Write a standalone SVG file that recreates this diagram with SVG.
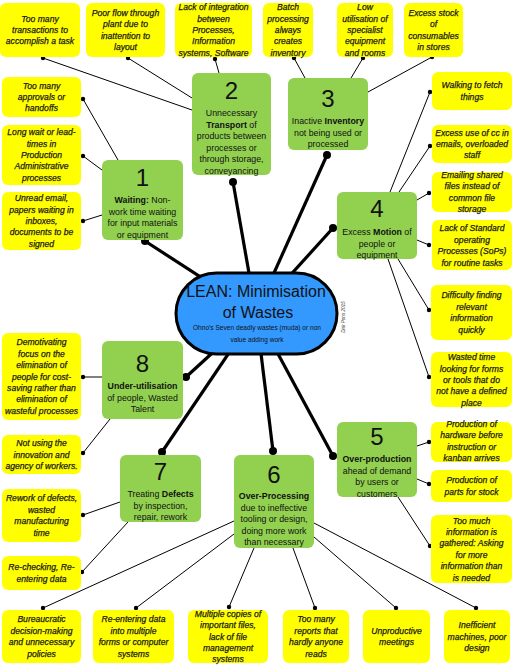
<svg xmlns="http://www.w3.org/2000/svg" width="512" height="666" viewBox="0 0 512 666">
<style>
.y{fill:#ffff00}
.g{fill:#92d050}
.yt{font-family:"Liberation Sans",Arial,sans-serif;font-style:italic;font-size:8.6px;fill:#1a1a1a;stroke:#1a1a1a;stroke-width:0.25;text-anchor:middle}
.gt{font-family:"Liberation Sans",Arial,sans-serif;font-size:8.8px;fill:#111;text-anchor:middle}
.gt .b{font-weight:bold}
.num{font-family:"Liberation Sans",Arial,sans-serif;font-size:24px;fill:#111;text-anchor:middle}
.thin{stroke:#000;stroke-width:1;fill:none}
.thick{stroke:#000;stroke-width:3.2;fill:none}
.d{fill:#000}
</style>
<rect width="512" height="666" fill="#fff"/>
<g id="connectors">
<g class="thin">
<line x1="43" y1="58" x2="192" y2="110"/>
<line x1="128" y1="58" x2="192" y2="98"/>
<line x1="215" y1="59" x2="219" y2="73"/>
<line x1="294" y1="58" x2="305" y2="78"/>
<line x1="363" y1="58" x2="351" y2="78"/>
<line x1="432" y1="57" x2="368" y2="92"/>
<line x1="83" y1="99" x2="118" y2="160"/>
<line x1="83" y1="156" x2="102" y2="170"/>
<line x1="83" y1="221" x2="102" y2="215"/>
<line x1="430" y1="92" x2="390" y2="192"/>
<line x1="430" y1="146" x2="399" y2="192"/>
<line x1="429" y1="193" x2="417" y2="200"/>
<line x1="429" y1="245" x2="417" y2="240"/>
<line x1="429" y1="310" x2="398" y2="259"/>
<line x1="429" y1="377" x2="388" y2="259"/>
<line x1="429" y1="442" x2="417" y2="446"/>
<line x1="429" y1="484" x2="417" y2="479"/>
<line x1="430" y1="546" x2="398" y2="497"/>
<line x1="83" y1="377" x2="102" y2="377"/>
<line x1="83" y1="453" x2="110" y2="419"/>
<line x1="83" y1="515" x2="120" y2="502"/>
<line x1="82" y1="572" x2="128" y2="522"/>
<line x1="43" y1="608" x2="234" y2="521"/>
<line x1="136" y1="608" x2="234" y2="534"/>
<line x1="229" y1="607" x2="254" y2="548"/>
<line x1="315" y1="608" x2="293" y2="548"/>
<line x1="396" y1="608" x2="314" y2="537"/>
<line x1="476" y1="608" x2="314" y2="523"/>
</g>
<g class="d">
<circle cx="43" cy="58" r="2.2"/><circle cx="128" cy="58" r="2.2"/><circle cx="215" cy="59" r="2.2"/>
<circle cx="294" cy="58" r="2.2"/><circle cx="363" cy="58" r="2.2"/><circle cx="432" cy="57" r="2.2"/>
<circle cx="83" cy="99" r="2.2"/><circle cx="83" cy="156" r="2.2"/><circle cx="83" cy="221" r="2.2"/>
<circle cx="430" cy="92" r="2.2"/><circle cx="430" cy="146" r="2.2"/><circle cx="429" cy="193" r="2.2"/>
<circle cx="429" cy="245" r="2.2"/><circle cx="429" cy="310" r="2.2"/><circle cx="429" cy="377" r="2.2"/>
<circle cx="429" cy="442" r="2.2"/><circle cx="429" cy="484" r="2.2"/><circle cx="430" cy="546" r="2.2"/>
<circle cx="83" cy="377" r="2.2"/><circle cx="83" cy="453" r="2.2"/><circle cx="83" cy="515" r="2.2"/>
<circle cx="82" cy="572" r="2.2"/>
<circle cx="43" cy="608" r="2.2"/><circle cx="136" cy="608" r="2.2"/><circle cx="229" cy="607" r="2.2"/>
<circle cx="315" cy="608" r="2.2"/><circle cx="396" cy="608" r="2.2"/><circle cx="476" cy="608" r="2.2"/>
</g>
<g class="thick">
<line x1="256" y1="313" x2="145" y2="241"/>
<line x1="256" y1="313" x2="233" y2="182"/>
<line x1="256" y1="313" x2="327" y2="155"/>
<line x1="256" y1="313" x2="333" y2="228"/>
<line x1="256" y1="313" x2="333" y2="456"/>
<line x1="256" y1="313" x2="273" y2="451"/>
<line x1="256" y1="313" x2="162" y2="452"/>
<line x1="256" y1="313" x2="186" y2="377"/>
</g>
<g class="d">
<circle cx="145" cy="241" r="4"/><circle cx="233" cy="182" r="4"/><circle cx="327" cy="155" r="4"/>
<circle cx="333" cy="228" r="4"/><circle cx="333" cy="456" r="4"/><circle cx="273" cy="451" r="4"/>
<circle cx="162" cy="452" r="4"/><circle cx="186" cy="377" r="4"/>
</g>
</g>

<g id="center">
<rect x="176" y="273" width="161" height="81" rx="40.5" fill="#3399ff" stroke="#000" stroke-width="3"/>
<text x="256" y="297" font-family="Liberation Sans,Arial,sans-serif" font-size="16" fill="#111" text-anchor="middle">LEAN: Minimisation</text>
<text x="258" y="318" font-family="Liberation Sans,Arial,sans-serif" font-size="16" fill="#111" text-anchor="middle">of Wastes</text>
<text x="257" y="330" font-family="Liberation Sans,Arial,sans-serif" font-size="6.6" fill="#111" text-anchor="middle">Ohno's Seven deadly wastes (muda) or non</text>
<text x="257" y="342" font-family="Liberation Sans,Arial,sans-serif" font-size="6.6" fill="#111" text-anchor="middle">value adding work</text>
<text x="0" y="0" transform="translate(345,317) rotate(-90)" font-family="Liberation Sans,Arial,sans-serif" font-style="italic" font-size="4.6" fill="#333" text-anchor="middle">Dirk Pons 2015</text>
</g>

<g id="n1"><rect class="g" x="102" y="160" width="81" height="80" rx="6"/>
<text class="num" x="142.5" y="186">1</text>
<text class="gt"><tspan x="142.5" y="203"><tspan class="b">Waiting:</tspan> Non-</tspan><tspan x="142.5" y="214.5">work time waiting</tspan><tspan x="142.5" y="226">for input materials</tspan><tspan x="142.5" y="237.5">or equipment</tspan></text></g>

<g id="n2"><rect class="g" x="192" y="73" width="79" height="102" rx="6"/>
<text class="num" x="231.5" y="99">2</text>
<text class="gt"><tspan x="231.5" y="116">Unnecessary</tspan><tspan x="231.5" y="127.5"><tspan class="b">Transport</tspan> of</tspan><tspan x="231.5" y="139">products between</tspan><tspan x="231.5" y="150.5">processes or</tspan><tspan x="231.5" y="162">through storage,</tspan><tspan x="231.5" y="173.5">conveyancing</tspan></text></g>

<g id="n3"><rect class="g" x="288" y="78" width="80" height="72" rx="6"/>
<text class="num" x="328" y="107">3</text>
<text class="gt"><tspan x="328" y="124">Inactive <tspan class="b">Inventory</tspan></tspan><tspan x="328" y="135.5">not being used or</tspan><tspan x="328" y="147">processed</tspan></text></g>

<g id="n4"><rect class="g" x="337" y="192" width="80" height="67" rx="6"/>
<text class="num" x="377" y="217">4</text>
<text class="gt"><tspan x="377" y="235">Excess <tspan class="b">Motion</tspan> of</tspan><tspan x="377" y="246.5">people or</tspan><tspan x="377" y="258">equipment</tspan></text></g>

<g id="n5"><rect class="g" x="337" y="422" width="80" height="75" rx="6"/>
<text class="num" x="377" y="445">5</text>
<text class="gt"><tspan x="377" y="462" class="b">Over-production</tspan><tspan x="377" y="473.5">ahead of demand</tspan><tspan x="377" y="485">by users or</tspan><tspan x="377" y="496.5">customers</tspan></text></g>

<g id="n6"><rect class="g" x="234" y="455" width="80" height="93" rx="6"/>
<text class="num" x="274" y="483">6</text>
<text class="gt"><tspan x="274" y="499" class="b">Over-Processing</tspan><tspan x="274" y="510.5">due to ineffective</tspan><tspan x="274" y="522">tooling or design,</tspan><tspan x="274" y="533.5">doing more work</tspan><tspan x="274" y="545">than necessary</tspan></text></g>

<g id="n7"><rect class="g" x="120" y="455" width="81" height="67" rx="6"/>
<text class="num" x="160.5" y="480">7</text>
<text class="gt"><tspan x="160.5" y="497">Treating <tspan class="b">Defects</tspan></tspan><tspan x="160.5" y="508.5">by inspection,</tspan><tspan x="160.5" y="520">repair, rework</tspan></text></g>

<g id="n8"><rect class="g" x="102" y="341" width="81" height="78" rx="6"/>
<text class="num" x="142.5" y="372">8</text>
<text class="gt"><tspan x="142.5" y="389" class="b">Under-utilisation</tspan><tspan x="142.5" y="400.5">of people, Wasted</tspan><tspan x="142.5" y="412">Talent</tspan></text></g>

<g id="t1"><rect class="y" x="0" y="3" width="80" height="54" rx="6"/>
<text class="yt"><tspan x="40" y="21.6">Too many</tspan><tspan x="40" y="33">transactions to</tspan><tspan x="40" y="44.4">accomplish a task</tspan></text></g>
<g id="t2"><rect class="y" x="86" y="3" width="79" height="54" rx="6"/>
<text class="yt"><tspan x="125.5" y="15.9">Poor flow through</tspan><tspan x="125.5" y="27.3">plant due to</tspan><tspan x="125.5" y="38.7">inattention to</tspan><tspan x="125.5" y="50.1">layout</tspan></text></g>
<g id="t3"><rect class="y" x="175" y="3" width="77" height="54" rx="6"/>
<text class="yt"><tspan x="213.5" y="10.2">Lack of integration</tspan><tspan x="213.5" y="21.6">between</tspan><tspan x="213.5" y="33">Processes,</tspan><tspan x="213.5" y="44.4">Information</tspan><tspan x="213.5" y="55.8">systems, Software</tspan></text></g>
<g id="t4"><rect class="y" x="263" y="3" width="50" height="54" rx="6"/>
<text class="yt"><tspan x="288" y="10.2">Batch</tspan><tspan x="288" y="21.6">processing</tspan><tspan x="288" y="33">always</tspan><tspan x="288" y="44.4">creates</tspan><tspan x="288" y="55.8">inventory</tspan></text></g>
<g id="t5"><rect class="y" x="337" y="3" width="56" height="54" rx="6"/>
<text class="yt"><tspan x="365" y="10.2">Low</tspan><tspan x="365" y="21.6">utilisation of</tspan><tspan x="365" y="33">specialist</tspan><tspan x="365" y="44.4">equipment</tspan><tspan x="365" y="55.8">and rooms</tspan></text></g>
<g id="t6"><rect class="y" x="404" y="3" width="59" height="54" rx="6"/>
<text class="yt"><tspan x="433.5" y="15.9">Excess stock</tspan><tspan x="433.5" y="27.3">of</tspan><tspan x="433.5" y="38.7">consumables</tspan><tspan x="433.5" y="50.1">in stores</tspan></text></g>

<g id="l1"><rect class="y" x="2" y="77" width="79" height="40" rx="6"/>
<text class="yt"><tspan x="41.5" y="88.6">Too many</tspan><tspan x="41.5" y="100">approvals or</tspan><tspan x="41.5" y="111.4">handoffs</tspan></text></g>
<g id="l2"><rect class="y" x="2" y="125" width="79" height="60" rx="6"/>
<text class="yt"><tspan x="41.5" y="135.2">Long wait or lead-</tspan><tspan x="41.5" y="146.6">times in</tspan><tspan x="41.5" y="158">Production</tspan><tspan x="41.5" y="169.4">Administrative</tspan><tspan x="41.5" y="180.8">processes</tspan></text></g>
<g id="l3"><rect class="y" x="2" y="192" width="79" height="58" rx="6"/>
<text class="yt"><tspan x="41.5" y="201.2">Unread email,</tspan><tspan x="41.5" y="212.6">papers waiting in</tspan><tspan x="41.5" y="224">inboxes,</tspan><tspan x="41.5" y="235.4">documents to be</tspan><tspan x="41.5" y="246.8">signed</tspan></text></g>

<g id="r1"><rect class="y" x="432" y="72" width="80" height="38" rx="6"/>
<text class="yt"><tspan x="472" y="88.3">Walking to fetch</tspan><tspan x="472" y="99.7">things</tspan></text></g>
<g id="r2"><rect class="y" x="432" y="125" width="80" height="38" rx="6"/>
<text class="yt"><tspan x="472" y="135.6">Excess use of cc in</tspan><tspan x="472" y="147">emails, overloaded</tspan><tspan x="472" y="158.4">staff</tspan></text></g>
<g id="r3"><rect class="y" x="432" y="172" width="80" height="40" rx="6"/>
<text class="yt"><tspan x="472" y="177.9">Emailing shared</tspan><tspan x="472" y="189.3">files instead of</tspan><tspan x="472" y="200.7">common file</tspan><tspan x="472" y="212.1">storage</tspan></text></g>
<g id="r4"><rect class="y" x="432" y="220" width="80" height="50" rx="6"/>
<text class="yt"><tspan x="472" y="231.4">Lack of Standard</tspan><tspan x="472" y="242.8">operating</tspan><tspan x="472" y="254.2">Processes (SoPs)</tspan><tspan x="472" y="265.6">for routine tasks</tspan></text></g>
<g id="r5"><rect class="y" x="431" y="285" width="81" height="55" rx="6"/>
<text class="yt"><tspan x="471.5" y="298.4">Difficulty finding</tspan><tspan x="471.5" y="309.8">relevant</tspan><tspan x="471.5" y="321.2">information</tspan><tspan x="471.5" y="332.6">quickly</tspan></text></g>
<g id="r6"><rect class="y" x="431" y="352" width="81" height="55" rx="6"/>
<text class="yt"><tspan x="471.5" y="360.2">Wasted time</tspan><tspan x="471.5" y="371.6">looking for forms</tspan><tspan x="471.5" y="383">or tools that do</tspan><tspan x="471.5" y="394.4">not have a defined</tspan><tspan x="471.5" y="405.8">place</tspan></text></g>
<g id="r7"><rect class="y" x="431" y="422" width="81" height="40" rx="6"/>
<text class="yt"><tspan x="471.5" y="426.9">Production of</tspan><tspan x="471.5" y="438.3">hardware before</tspan><tspan x="471.5" y="449.7">instruction or</tspan><tspan x="471.5" y="461.1">kanban arrives</tspan></text></g>
<g id="r8"><rect class="y" x="431" y="470" width="81" height="32" rx="6"/>
<text class="yt"><tspan x="471.5" y="483.3">Production of</tspan><tspan x="471.5" y="494.7">parts for stock</tspan></text></g>
<g id="r9"><rect class="y" x="431" y="515" width="81" height="68" rx="6"/>
<text class="yt"><tspan x="471.5" y="523.5">Too much</tspan><tspan x="471.5" y="534.9">information is</tspan><tspan x="471.5" y="546.3">gathered: Asking</tspan><tspan x="471.5" y="557.7">for more</tspan><tspan x="471.5" y="569.1">information than</tspan><tspan x="471.5" y="580.5">is needed</tspan></text></g>

<g id="l4"><rect class="y" x="2" y="333" width="79" height="87" rx="6"/>
<text class="yt"><tspan x="41.5" y="345.3">Demotivating</tspan><tspan x="41.5" y="356.7">focus on the</tspan><tspan x="41.5" y="368.1">elimination of</tspan><tspan x="41.5" y="379.5">people for cost-</tspan><tspan x="41.5" y="390.9">saving rather than</tspan><tspan x="41.5" y="402.3">elimination of</tspan><tspan x="41.5" y="413.7">wasteful processes</tspan></text></g>
<g id="l5"><rect class="y" x="2" y="435" width="79" height="39" rx="6"/>
<text class="yt"><tspan x="41.5" y="446.1">Not using the</tspan><tspan x="41.5" y="457.5">innovation and</tspan><tspan x="41.5" y="468.9">agency of workers.</tspan></text></g>
<g id="l6"><rect class="y" x="2" y="489" width="79" height="53" rx="6"/>
<text class="yt"><tspan x="41.5" y="501.4">Rework of defects,</tspan><tspan x="41.5" y="512.8">wasted</tspan><tspan x="41.5" y="524.2">manufacturing</tspan><tspan x="41.5" y="535.6">time</tspan></text></g>
<g id="l7"><rect class="y" x="2" y="556" width="79" height="34" rx="6"/>
<text class="yt"><tspan x="41.5" y="570.3">Re-checking, Re-</tspan><tspan x="41.5" y="581.7">entering data</tspan></text></g>

<g id="b1"><rect class="y" x="2" y="610" width="79" height="53" rx="6"/>
<text class="yt"><tspan x="41.5" y="622.4">Bureaucratic</tspan><tspan x="41.5" y="633.8">decision-making</tspan><tspan x="41.5" y="645.2">and unnecessary</tspan><tspan x="41.5" y="656.6">policies</tspan></text></g>
<g id="b2"><rect class="y" x="93" y="610" width="81" height="53" rx="6"/>
<text class="yt"><tspan x="133.5" y="622.4">Re-entering data</tspan><tspan x="133.5" y="633.8">into multiple</tspan><tspan x="133.5" y="645.2">forms or computer</tspan><tspan x="133.5" y="656.6">systems</tspan></text></g>
<g id="b3"><rect class="y" x="188" y="610" width="80" height="53" rx="6"/>
<text class="yt"><tspan x="228" y="616.7">Multiple copies of</tspan><tspan x="228" y="628.1">important files,</tspan><tspan x="228" y="639.5">lack of file</tspan><tspan x="228" y="650.9">management</tspan><tspan x="228" y="662.3">systems</tspan></text></g>
<g id="b4"><rect class="y" x="283" y="610" width="66" height="53" rx="6"/>
<text class="yt"><tspan x="316" y="622.4">Too many</tspan><tspan x="316" y="633.8">reports that</tspan><tspan x="316" y="645.2">hardly anyone</tspan><tspan x="316" y="656.6">reads</tspan></text></g>
<g id="b5"><rect class="y" x="363" y="610" width="67" height="53" rx="6"/>
<text class="yt"><tspan x="396.5" y="633.8">Unproductive</tspan><tspan x="396.5" y="645.2">meetings</tspan></text></g>
<g id="b6"><rect class="y" x="444" y="610" width="66" height="53" rx="6"/>
<text class="yt"><tspan x="477" y="628.1">Inefficient</tspan><tspan x="477" y="639.5">machines, poor</tspan><tspan x="477" y="650.9">design</tspan></text></g>
</svg>
